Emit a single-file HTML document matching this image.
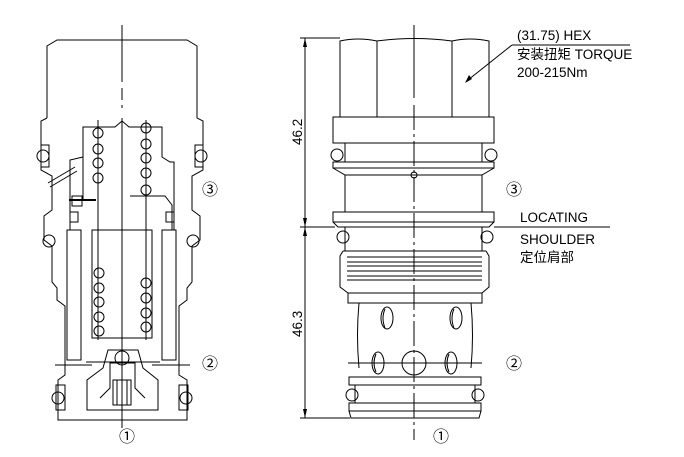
<!DOCTYPE html>
<html><head><meta charset="utf-8"><style>
html,body{margin:0;padding:0;background:#fff;}
svg{display:block;}
text{font-family:"Liberation Sans","Noto Sans CJK SC",sans-serif;font-size:13.5px;fill:#000;}
</style></head><body>
<svg width="684" height="457" viewBox="0 0 684 457" xmlns="http://www.w3.org/2000/svg">
<g fill="none" stroke="#000" stroke-width="1">
<!-- ===== LEFT SECTION VIEW ===== -->
<line x1="122" y1="25" x2="122" y2="82" />
<line x1="122" y1="88" x2="122" y2="108" stroke-dasharray="12,5"/>
<line x1="122" y1="118" x2="122" y2="380"/>
<line x1="122" y1="405" x2="122" y2="428"/>
<path d="M47,118 L47,46 L57,40 L187,40 L197,46 L197,118 L203,121 L203,147"/>
<path d="M47,118 L41,121 L41,147"/>
<path d="M41,165 L41,170 L52,176 L52,210 L44,216 L44,240 L52,246 L52,282 L57,288 L57,300 L65,306 L65,340"/>
<path d="M203,165 L203,170 L192,176 L192,210 L200,216 L200,240 L192,246 L192,282 L187,288 L187,300 L179,306 L179,340"/>
<circle cx="43" cy="156" r="6"/><circle cx="201" cy="156" r="6"/>
<rect x="41" y="145" width="8" height="22"/><rect x="195" y="145" width="8" height="22"/>
<circle cx="49" cy="241" r="6"/><circle cx="193" cy="241" r="6"/>
<path d="M83,200 L83,127 L115,127 L122,121 L129,127 L162,127 L162,157 L170,162 L174,162 L174,230"/>
<path d="M83,157 L70,160 L70,230"/>
<path d="M130,196 L165,196 L172,205 L172,230"/>
<line x1="48" y1="183" x2="75" y2="167"/><line x1="50" y1="187" x2="77" y2="171"/>
<line x1="98" y1="120" x2="98" y2="340"/><line x1="146" y1="120" x2="146" y2="340"/>
<rect x="92" y="230" width="60" height="108"/>
<g>
<circle cx="98" cy="133" r="5"/><circle cx="98" cy="149" r="5"/><circle cx="98" cy="163" r="5"/><circle cx="98" cy="178" r="5"/>
<circle cx="146" cy="128" r="5"/><circle cx="146" cy="144" r="5"/><circle cx="146" cy="158" r="5"/><circle cx="146" cy="173" r="5"/><circle cx="146" cy="190" r="5"/>
<circle cx="99" cy="273" r="5"/><circle cx="99" cy="288" r="5"/><circle cx="99" cy="302" r="5"/><circle cx="99" cy="317" r="5"/><circle cx="99" cy="331" r="5"/>
<circle cx="146" cy="283" r="5"/><circle cx="146" cy="298" r="5"/><circle cx="146" cy="313" r="5"/><circle cx="146" cy="327" r="5"/>
</g>
<rect x="67" y="230" width="14" height="130"/><rect x="162" y="230" width="14" height="130"/>
<rect x="72" y="196" width="10" height="10"/><rect x="70" y="212" width="8" height="10"/><rect x="166" y="212" width="8" height="10"/>
<line x1="69" y1="200" x2="96" y2="200" stroke-width="2"/>
<path d="M65,340 L65,375 L58,380 L58,420 L187,420 L187,380 L179,375 L179,340"/>
<line x1="86" y1="362" x2="160" y2="362"/>
<path d="M87,410 L87,380 L103,368 L108,350 L138,350 L143,368 L158,380 L158,410 Z"/>
<path d="M100,398 L110,388 L110,363 L135,363 L135,388 L145,398"/>
<circle cx="122" cy="358" r="7"/>
<rect x="113" y="380" width="18" height="25"/>
<line x1="117" y1="380" x2="117" y2="405"/><line x1="122" y1="380" x2="122" y2="405"/><line x1="127" y1="380" x2="127" y2="405"/>
<line x1="55" y1="365" x2="92" y2="365"/><line x1="152" y1="365" x2="190" y2="365"/>
<rect x="56" y="385" width="9" height="25"/><rect x="179" y="385" width="9" height="25"/>
<circle cx="58" cy="398" r="6"/><circle cx="186" cy="398" r="6"/>

<!-- ===== RIGHT EXTERNAL VIEW ===== -->
<line x1="414" y1="25" x2="414" y2="98" />
<line x1="414" y1="105" x2="414" y2="440" stroke-dasharray="25,4,3,4"/>
<path d="M340,117 L340,41 Q358,37 377,41 Q414,36 452,41 Q470,37 489,41 L489,117"/>
<line x1="377" y1="41" x2="377" y2="117"/><line x1="452" y1="41" x2="452" y2="117"/>
<rect x="333" y="117" width="161" height="26"/>
<line x1="345" y1="143" x2="345" y2="162"/><line x1="482" y1="143" x2="482" y2="162"/>
<circle cx="337" cy="155" r="6"/><circle cx="491" cy="155" r="6"/>
<rect x="333" y="162" width="161" height="6"/>
<path d="M333,168 L345,175 L482,175 L494,168"/>
<circle cx="414" cy="175" r="3"/>
<path d="M345,175 L345,212 M482,175 L482,212"/>
<rect x="333" y="212" width="161" height="10"/>
<path d="M333,222 L338,227 L489,227 L494,222"/>
<line x1="345" y1="227" x2="345" y2="251"/><line x1="482" y1="227" x2="482" y2="251"/>
<circle cx="343" cy="237" r="6"/><circle cx="487" cy="237" r="6"/>
<path d="M343,251 L340,256 L340,287 L348,293 M486,251 L489,256 L489,287 L482,293"/>
<line x1="343" y1="251" x2="486" y2="251"/>
<line x1="347" y1="257" x2="482" y2="257"/><line x1="347" y1="262" x2="482" y2="262"/><line x1="347" y1="266" x2="482" y2="266"/><line x1="347" y1="271" x2="482" y2="271"/><line x1="347" y1="276" x2="482" y2="276"/><line x1="347" y1="280" x2="482" y2="280"/>
<rect x="348" y="293" width="134" height="10"/>
<path d="M359,303 Q356,335 359,368 M471,303 Q474,335 471,368"/>
<ellipse cx="387" cy="318" rx="6" ry="11"/><path d="M385,309 Q381,318 385,328"/>
<ellipse cx="456" cy="318" rx="6" ry="11"/><path d="M454,309 Q450,318 454,328"/>
<ellipse cx="378" cy="363" rx="6" ry="11"/><path d="M376,354 Q372,363 376,372"/>
<ellipse cx="451" cy="363" rx="6" ry="11"/><path d="M449,354 Q445,363 449,372"/>
<circle cx="414" cy="363" r="12"/>
<line x1="348" y1="363" x2="482" y2="363"/>
<rect x="349" y="377" width="132" height="8"/>
<line x1="355" y1="385" x2="355" y2="403"/><line x1="475" y1="385" x2="475" y2="403"/>
<circle cx="352" cy="395" r="6"/><circle cx="478" cy="395" r="6"/>
<rect x="349" y="403" width="132" height="8"/>
<path d="M349,411 L351,418 L479,418 L481,411"/>
<line x1="300" y1="38" x2="340" y2="38"/>
<line x1="300" y1="227" x2="335" y2="227"/>
<line x1="300" y1="418" x2="350" y2="418"/>
<line x1="305" y1="38" x2="305" y2="418"/>
<line x1="494" y1="227" x2="610" y2="227"/>
<line x1="512" y1="45" x2="630" y2="45"/>
<line x1="512" y1="45" x2="468" y2="80"/>
</g>
<g fill="#000">
<path d="M305,38 l-2,9 l4,0 z"/><path d="M305,227 l-2,-9 l4,0 z"/>
<path d="M305,227 l-2,9 l4,0 z"/><path d="M305,418 l-2,-9 l4,0 z"/>
<path d="M465,83 l4,-8 l3,4 z"/>
</g>
<text transform="translate(302,145) rotate(-90)">46.2</text>
<text transform="translate(302,337) rotate(-90)">46.3</text>
<text x="517" y="40">(31.75) HEX</text>
<text x="517" y="59">安装扭矩 TORQUE</text>
<text x="517" y="77">200-215Nm</text>
<text x="520" y="222">LOCATING</text>
<text x="520" y="244">SHOULDER</text>
<text x="520" y="262">定位肩部</text>
<text x="506" y="195" style="font-size:16px">③</text>
<text x="506" y="369" style="font-size:16px">②</text>
<text x="433" y="442" style="font-size:16px">①</text>
<text x="202" y="195" style="font-size:16px">③</text>
<text x="202" y="369" style="font-size:16px">②</text>
<text x="119" y="442" style="font-size:16px">①</text>
</svg>
</body></html>
